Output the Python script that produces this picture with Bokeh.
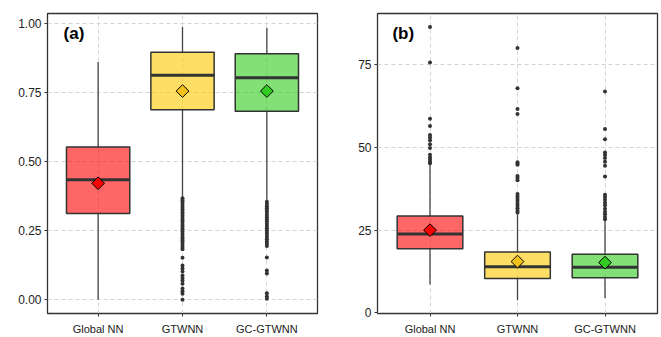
import numpy as np
from bokeh.plotting import figure
from bokeh.layouts import row
from bokeh.models import FactorRange, Range1d, FixedTicker, Label, ColumnDataSource
from bokeh.embed import file_html
from bokeh.resources import INLINE

cats = ["Global NN", "GTWNN", "GC-GTWNN"]
fill_colors = ["#FF0000", "#FFC800", "#2ECC1A"]
mean_colors = ["#FF0000", "#F2C21A", "#33CC22"]

# Panel (a)
a_low = [0.0, 0.372, 0.360]
a_q1 = [0.312, 0.688, 0.683]
a_med = [0.435, 0.813, 0.804]
a_q3 = [0.553, 0.897, 0.891]
a_high = [0.861, 0.988, 0.985]
a_mean = [0.422, 0.756, 0.756]
a_out_gtwnn = [0.368, 0.360, 0.352, 0.344, 0.336, 0.328, 0.320, 0.312, 0.304,
               0.296, 0.288, 0.280, 0.271, 0.263, 0.255, 0.247, 0.239, 0.231,
               0.223, 0.215, 0.207, 0.199, 0.191, 0.183, 0.152, 0.124,
               0.113, 0.102, 0.088, 0.079, 0.070, 0.058, 0.041, 0.031, 0.022,
               0.0]
a_out_gcgtwnn = [0.355, 0.347, 0.339, 0.331, 0.323, 0.315, 0.307, 0.299, 0.291,
                 0.283, 0.275, 0.267, 0.259, 0.251, 0.243, 0.235, 0.227, 0.219,
                 0.211, 0.203, 0.195, 0.153, 0.106, 0.095, 0.023, 0.012, 0.003]
a_ticks = [0.0, 0.25, 0.5, 0.75, 1.0]
a_tick_labels = ["0.00", "0.25", "0.50", "0.75", "1.00"]

# Panel (b)
b_low = [8.6, 3.8, 4.5]
b_q1 = [19.4, 10.4, 10.6]
b_med = [23.8, 13.9, 13.8]
b_q3 = [29.3, 18.4, 17.7]
b_high = [45.0, 29.8, 27.8]
b_mean = [25.0, 15.5, 15.2]
b_out_global = [86.4, 75.7, 58.7, 56.5, 53.8, 53.0, 52.2, 51.0, 49.8, 47.8, 47.0,
                46.3, 45.6, 45.2]
b_out_gtwnn = [80.1, 67.9, 61.6, 60.1, 45.5, 45.0, 44.8, 41.4, 40.8, 40.1, 35.9,
               35.2, 34.5, 33.8, 33.0, 32.3, 31.6, 30.9, 30.3]
b_out_gcgtwnn = [66.9, 55.6, 52.5, 48.5, 47.7, 46.8, 45.7, 44.5, 41.2, 35.7, 35.0,
                 34.2, 33.3, 32.5, 31.5, 30.6, 29.8, 29.0, 28.3]
b_ticks = [0, 25, 50, 75]
b_tick_labels = ["0", "25", "50", "75"]

FONT = "Liberation Sans"


def make_panel(width, border_left, border_right, yrange, ticks, tick_labels,
               low, q1, med, q3, high, mean, outliers, label, label_x, label_y):
    p = figure(width=width, height=337, output_backend="svg", toolbar_location=None,
               x_range=FactorRange(factors=cats, range_padding=0.1,
                                   range_padding_units="absolute"),
               y_range=Range1d(*yrange),
               min_border_left=border_left, min_border_right=border_right,
               min_border_top=13, min_border_bottom=24)
    p.background_fill_color = "white"
    p.border_fill_color = "white"
    p.outline_line_color = "#333333"
    p.outline_line_width = 1.3

    for g in (p.xgrid, p.ygrid):
        g.grid_line_color = "#d4d4d4"
        g.grid_line_dash = "4 3"
        g.grid_line_width = 1

    p.yaxis.ticker = FixedTicker(ticks=ticks)
    p.yaxis.major_label_overrides = {t: l for t, l in zip(ticks, tick_labels)}
    for ax in (p.xaxis, p.yaxis):
        ax.axis_line_color = None
        ax.major_tick_in = 0
        ax.major_tick_out = 3
        ax.major_tick_line_color = "#333333"
        ax.minor_tick_line_color = None
        ax.major_label_text_font = FONT
        ax.major_label_text_color = "#222222"
    p.yaxis.major_label_text_font_size = "12px"
    p.yaxis.major_label_standoff = 3
    p.xaxis.major_label_text_font_size = "11px"
    p.xaxis.major_label_standoff = 6

    src = ColumnDataSource(dict(cat=cats, low=low, q1=q1, med=med, q3=q3,
                                high=high, mean=mean, fill=fill_colors,
                                mcol=mean_colors))
    p.segment(x0="cat", y0="low", x1="cat", y1="q1", source=src,
              line_color="#444444", line_width=1.3)
    p.segment(x0="cat", y0="q3", x1="cat", y1="high", source=src,
              line_color="#444444", line_width=1.3)

    ox, oy = [], []
    for c, vals in zip(cats, outliers):
        ox += [c] * len(vals)
        oy += vals
    p.scatter(x=ox, y=oy, size=4, color="#333333", line_width=0)

    p.vbar(x="cat", bottom="q1", top="q3", width=0.75, source=src,
           fill_color="fill", fill_alpha=0.6, line_color="#333333", line_width=1.5)
    p.vbar(x="cat", bottom="med", top="med", width=0.75, source=src,
           fill_color=None, line_color="#333333", line_width=3)
    p.scatter(x="cat", y="mean", source=src, marker="square", angle=np.pi / 4,
              size=9, fill_color="mcol", line_color="black", line_width=1)

    p.add_layout(Label(x=label_x, y=label_y, text=label, text_font=FONT,
                       text_font_size="17px", text_font_style="bold",
                       text_baseline="middle", text_color="black"))
    return p


pa = make_panel(335, 47, 18, (-0.05, 1.037), a_ticks, a_tick_labels,
                a_low, a_q1, a_med, a_q3, a_high, a_mean,
                [[], a_out_gtwnn, a_out_gcgtwnn], "(a)", 0.09, 0.964)
pb = make_panel(326, 42, 4, (-0.2, 90.5), b_ticks, b_tick_labels,
                b_low, b_q1, b_med, b_q3, b_high, b_mean,
                [b_out_global, b_out_gtwnn, b_out_gcgtwnn], "(b)", 0.07, 84.4)

layout = row(pa, pb)
open("out.html", "w").write(file_html(layout, INLINE))
